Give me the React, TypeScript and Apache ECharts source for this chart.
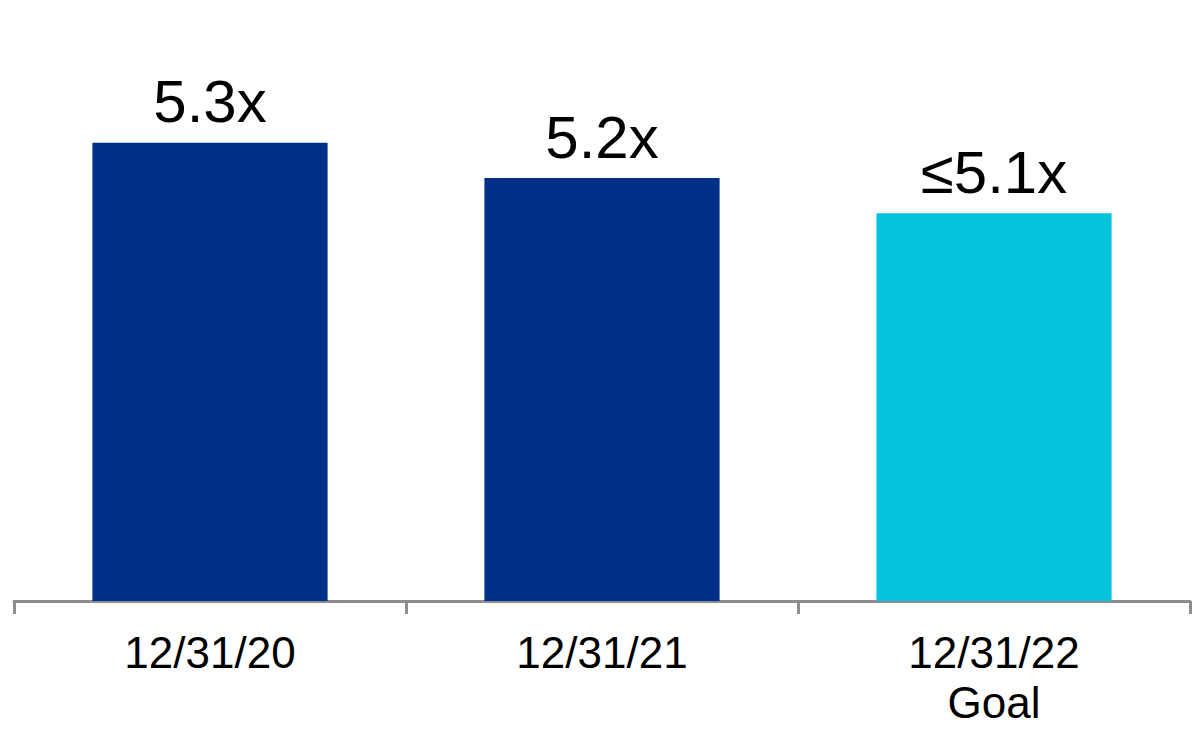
import React, { useEffect, useRef } from "react";
import * as echarts from "echarts";

const categories = ["12/31/20", "12/31/21", "12/31/22\nGoal"];
const values = [5.3, 5.2, 5.1];
const labelPrefixes = ["", "", "≤"];
const barColors = ["#003087", "#003087", "#05C3DF"];

export default function App() {
  const ref = useRef<HTMLDivElement>(null);
  useEffect(() => {
    if (!ref.current) return;
    const chart = echarts.init(ref.current, null, { renderer: "svg" });
    chart.setOption({
      animation: false,
      backgroundColor: "#ffffff",
      grid: { left: 14, right: 10, top: 37, bottom: 130 },
      xAxis: {
        type: "category",
        data: categories,
        boundaryGap: true,
        axisLine: { lineStyle: { color: "#8c8c8c", width: 3 } },
        axisTick: { show: true, length: 13, lineStyle: { color: "#8c8c8c", width: 3 } },
        axisLabel: {
          color: "#000000",
          fontFamily: "Liberation Sans, Arial, sans-serif",
          fontSize: 44,
          lineHeight: 50,
          margin: 26,
          interval: 0,
        },
      },
      yAxis: {
        type: "value",
        min: 4,
        max: 5.6,
        show: false,
        splitLine: { show: false },
      },
      series: [
        {
          type: "bar",
          barWidth: "60%",
          data: values.map((v, i) => ({ value: v, itemStyle: { color: barColors[i] } })),
          label: {
            show: true,
            position: "top",
            distance: 11,
            color: "#000000",
            fontFamily: "Liberation Sans, Arial, sans-serif",
            fontSize: 60,
            formatter: (p: any) => `${labelPrefixes[p.dataIndex]}${values[p.dataIndex].toFixed(1)}x`,
          },
        },
      ],
    });
    return () => chart.dispose();
  }, []);
  return (
    <div
      ref={ref}
      style={{ position: "absolute", left: 0, top: 0, width: 1200, height: 731 }}
    />
  );
}
